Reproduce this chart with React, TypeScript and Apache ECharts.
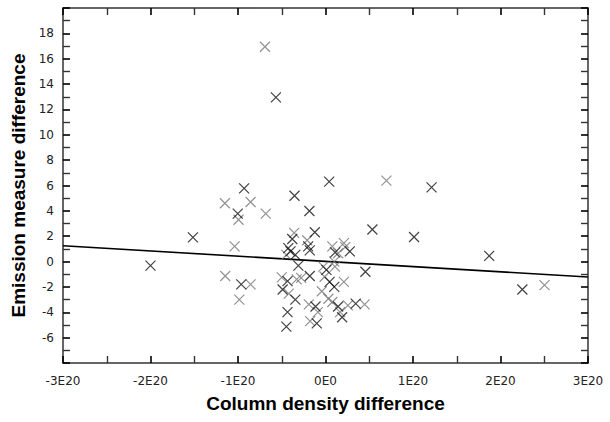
import React, { useEffect, useRef } from "react";
import * as echarts from "echarts";

// x values in units of 1E20 (column density difference), y = emission measure difference
const E20 = 1e20;
const darkX = [-0.567, -2.0, -1.515, -0.93, -1.003, -0.963, -0.354, -0.184, 0.042, 1.212, 0.536, 1.012, 1.871, 2.25, 0.456, -0.122,
  -0.38, -0.425, -0.345, -0.198, -0.18, -0.31, -0.434, -0.18, -0.49, -0.345, -0.434, -0.447, -0.114, -0.1, 0.01, 0.047, 0.1, 0.144, 0.19, 0.11, 0.278, 0.345, -0.4];
const darkY = [12.95, -0.32, 1.91, 5.77, 3.78, -1.8, 5.19, 3.99, 6.3, 5.85, 2.53, 1.94, 0.45, -2.2, -0.8, 2.31,
  1.78, 1.06, 0.53, 1.2, 0.88, -0.32, -1.54, -1.14, -2.2, -3.0, -3.99, -5.13, -3.54, -4.87, -0.66, -1.6, -2.0, -3.54, -4.39, 0.72, 0.8, -3.32, 0.8];
const lightX = [-0.692, -1.15, -0.856, -0.994, -0.683, -1.039, -1.146, -0.856, -0.985, 0.696, 2.503,
  -0.358, -0.21, -0.447, -0.5, -0.33, -0.278, -0.42, -0.19, -0.087, -0.176, -0.042, -0.024, -0.01, 0.108, 0.078, 0.033, 0.167, 0.21, 0.078, 0.144, 0.21, 0.225, 0.256, 0.447, 0.1];
const lightY = [16.94, 4.6, 4.7, 3.3, 3.78, 1.2, -1.14, -1.8, -3.0, 6.38, -1.86,
  2.26, 1.68, 0.53, -1.25, -1.4, -1.28, -2.53, -3.38, -3.99, -4.7, -2.34, -0.4, -1.2, -0.4, -3.19, -2.93, -3.99, -1.6, 1.2, 0.66, 1.46, 1.14, -3.46, -3.38, 0.0];
const fitX = [-3, 3];
const fitY = [1.25, -1.22];

const xName = "Column density difference";
const yName = "Emission measure difference";

const X_SYMBOL = "path://M0,0L10,10M10,0L0,10";

function makeTick() {
  return { show: true, inside: true, length: 7, lineStyle: { color: "#000", width: 1.6 } };
}
function makeMinor() {
  return { show: true, splitNumber: 2, length: 7, lineStyle: { color: "#333", width: 1.4 } };
}
function makeLine() {
  return { show: true, onZero: false, lineStyle: { color: "#333", width: 1.5 } };
}

export default function App() {
  const ref = useRef<HTMLDivElement>(null);
  useEffect(() => {
    if (!ref.current) return;
    const chart = echarts.init(ref.current, null, { renderer: "svg" });
    const labelFont = { fontFamily: "DejaVu Sans", fontSize: 12, color: "#222" };
    const xBase = () => ({ type: "value", min: -3 * E20, max: 3 * E20, interval: E20, splitLine: { show: false }, axisLine: makeLine(), axisTick: makeTick(), minorTick: makeMinor() });
    const yBase = () => ({ type: "value", min: -8, max: 20, interval: 2, splitLine: { show: false }, axisLine: makeLine(), axisTick: makeTick(), minorTick: makeMinor() });
    const option = {
      animation: false,
      grid: { left: 63, right: 22, top: 8, bottom: 59, containLabel: false },
      xAxis: [
        {
          ...xBase(),
          position: "bottom",
          name: xName,
          nameLocation: "middle",
          nameGap: 31,
          nameTextStyle: { fontFamily: "Liberation Sans", fontWeight: "bold", fontSize: 19, color: "#000" },
          axisLabel: {
            ...labelFont,
            margin: 12,
            formatter: (v: number) => {
              const n = Math.round(v / E20);
              return n === 0 ? "0E0" : n + "E20";
            },
          },
        },
        { ...xBase(), position: "top", axisLabel: { show: false } },
      ],
      yAxis: [
        {
          ...yBase(),
          position: "left",
          name: yName,
          nameLocation: "middle",
          nameGap: 25,
          nameTextStyle: { fontFamily: "Liberation Sans", fontWeight: "bold", fontSize: 19, color: "#000" },
          axisLabel: {
            ...labelFont,
            margin: 9,
            formatter: (v: number) => (v === -8 || v === 20 ? "" : String(v)),
          },
        },
        { ...yBase(), position: "right", axisLabel: { show: false } },
      ],
      series: [
        {
          type: "line",
          data: fitX.map((x, i) => [x * E20, fitY[i]]),
          symbol: "none",
          lineStyle: { color: "#000", width: 1.6 },
          z: 1,
        },
        {
          type: "scatter",
          data: lightX.map((x, i) => [x * E20, lightY[i]]),
          symbol: X_SYMBOL,
          symbolSize: 10,
          itemStyle: { color: "none", borderColor: "#777", borderWidth: 1.2 },
          z: 2,
        },
        {
          type: "scatter",
          data: darkX.map((x, i) => [x * E20, darkY[i]]),
          symbol: X_SYMBOL,
          symbolSize: 10,
          itemStyle: { color: "none", borderColor: "#111", borderWidth: 1.2 },
          z: 3,
        },
      ],
    };
    chart.setOption(option as any);
    return () => chart.dispose();
  }, []);
  return (
    <div
      ref={ref}
      style={{ position: "fixed", left: 0, top: 0, width: 610, height: 422, background: "#fff" }}
    />
  );
}
